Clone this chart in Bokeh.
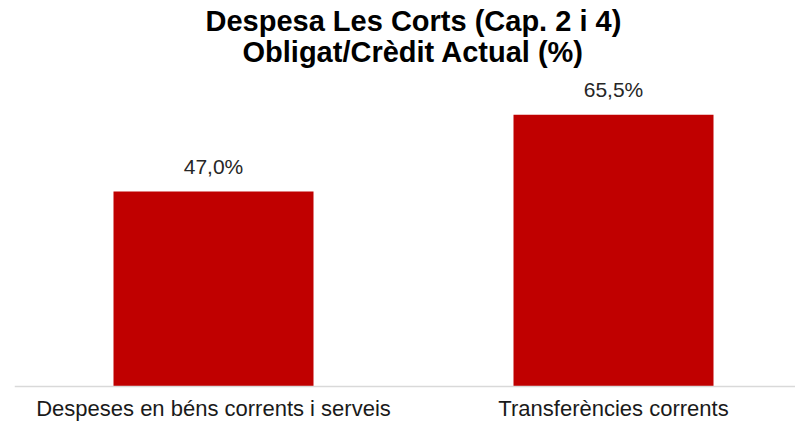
from bokeh.plotting import figure
from bokeh.models import ColumnDataSource, Range1d, LabelSet, Title, Span
from bokeh.core.properties import value
from bokeh.embed import file_html
from bokeh.resources import INLINE

categories = ["Despeses en béns corrents i serveis", "Transferències corrents"]
values = [47.0, 65.5]
value_labels = ["47,0%", "65,5%"]
title_lines = ["Despesa Les Corts (Cap. 2 i 4)", "Obligat/Crèdit Actual (%)"]

FONT = "Liberation Sans"

xpos = [i + 0.5 for i in range(len(categories))]
src = ColumnDataSource(data=dict(x=xpos, cat=categories, val=values,
                                 lab=value_labels, zero=[0] * len(values)))

p = figure(
    width=795, height=423,
    x_range=Range1d(0.0025, 1.955),
    y_range=Range1d(-8.92, 76.89),
    output_backend="svg", toolbar_location=None, title=None,
    min_border_left=14, min_border_right=0, min_border_top=67, min_border_bottom=0,
    outline_line_color=None,
)

p.add_layout(Title(text=title_lines[1], align="left", text_font=FONT,
                   text_font_size="29px", text_font_style="bold",
                   text_color="#000000", standoff=0, offset=228), "above")
p.add_layout(Title(text=title_lines[0], align="left", text_font=FONT,
                   text_font_size="29px", text_font_style="bold",
                   text_color="#000000", standoff=-6, offset=191), "above")

p.vbar(x="x", top="val", width=0.5, source=src, fill_color="#C00000",
       line_color=None)

p.add_layout(Span(location=0, dimension="width", line_color="#D9D9D9",
                  line_width=1.5))

labels = LabelSet(x="x", y="val", text="lab", source=src, text_align="center",
                  text_baseline="alphabetic", y_offset=18, text_font=value(FONT),
                  text_font_size=value("21px"), text_color=value("#262626"))
p.add_layout(labels)

cat_labels = LabelSet(x="x", y="zero", text="cat", source=src, text_align="center",
                      text_baseline="alphabetic", y_offset=-30, text_font=value(FONT),
                      text_font_size=value("22px"), text_color=value("#1a1a1a"))
p.add_layout(cat_labels)

p.xaxis.visible = False
p.yaxis.visible = False
p.xgrid.grid_line_color = None
p.ygrid.grid_line_color = None

open("out.html", "w").write(file_html(p, INLINE))
